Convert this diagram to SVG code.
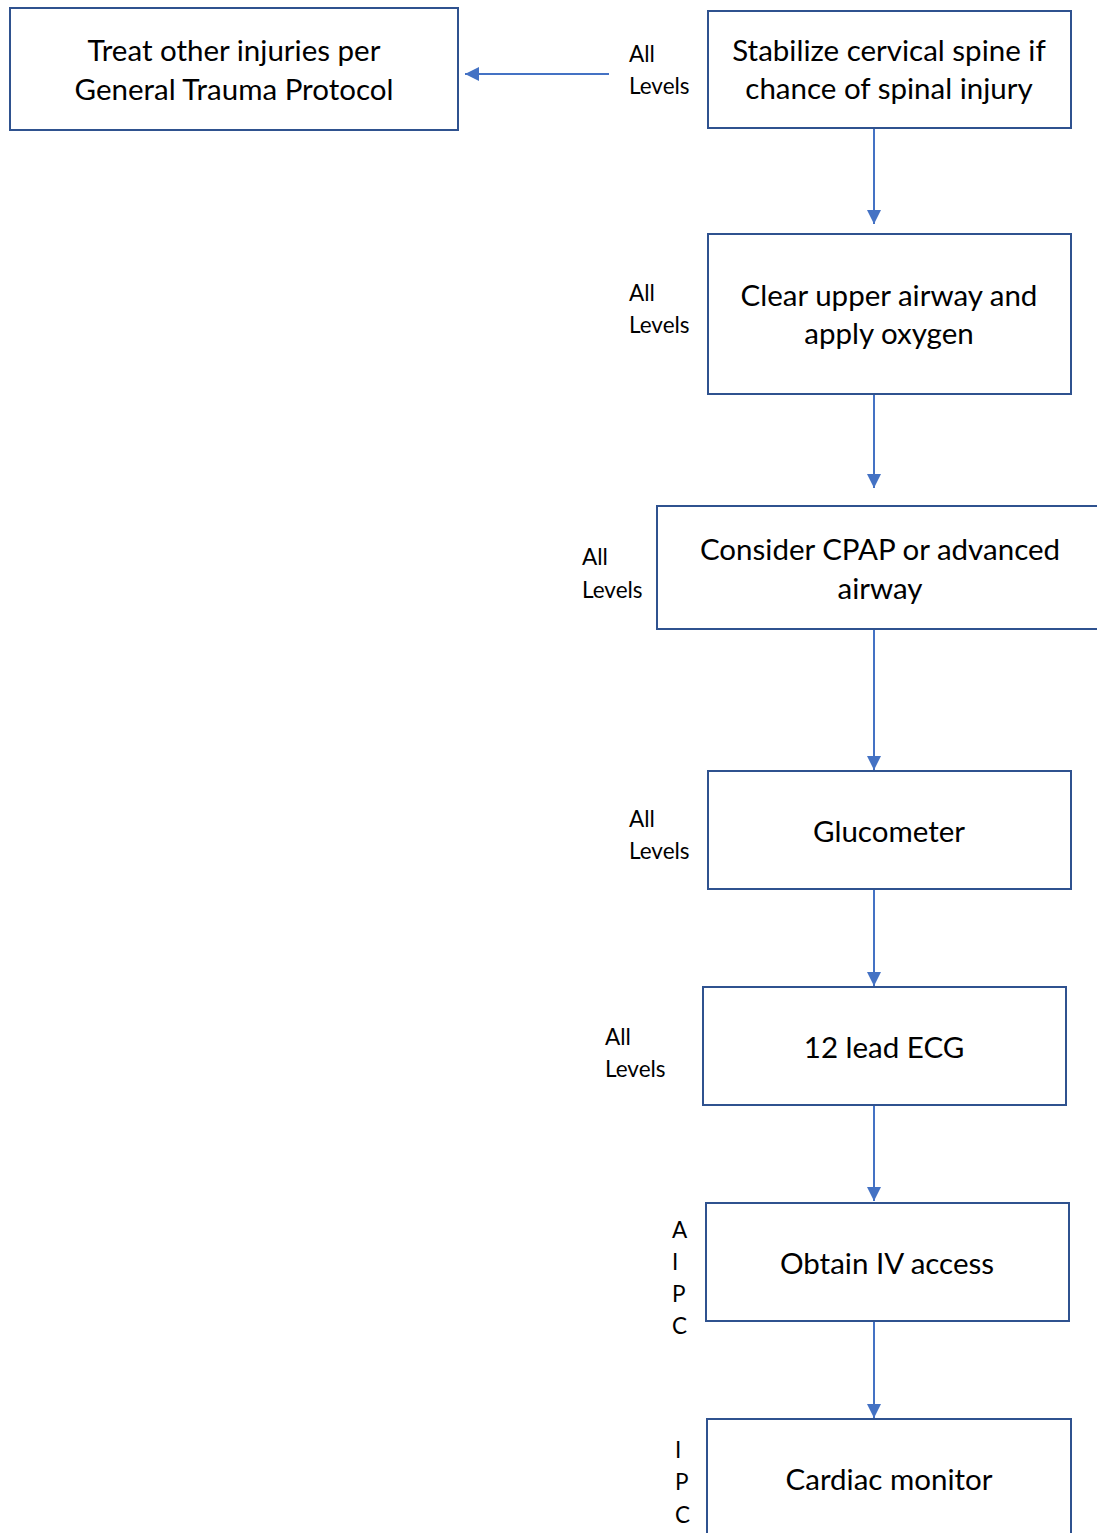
<svg xmlns="http://www.w3.org/2000/svg" width="1097" height="1533" viewBox="0 0 1097 1533">
  <defs>
    <marker id="arrow" viewBox="0 0 10 10" refX="10" refY="5" markerWidth="7" markerHeight="7" orient="auto" markerUnits="strokeWidth">
      <path d="M0,0 L10,5 L0,10 z" fill="#4472C4"/>
    </marker>
    <style>
      .box { fill: #FFFFFF; stroke: #2F528F; stroke-width: 2; }
      .main { font-family: Lato, "Open Sans", "Liberation Sans", sans-serif; font-size: 29.5px; fill: #000000; text-anchor: middle; }
      .lvl { font-family: Lato, "Open Sans", "Liberation Sans", sans-serif; font-size: 22.5px; fill: #000000; }
      .conn { stroke: #4472C4; stroke-width: 2; fill: none; marker-end: url(#arrow); }
    </style>
  </defs>
  <rect x="0" y="0" width="1097" height="1533" fill="#FFFFFF"/>

  <g id="connectors">
    <line class="conn" x1="609" y1="74" x2="465" y2="74"/>
    <line class="conn" x1="874" y1="128" x2="874" y2="224"/>
    <line class="conn" x1="874" y1="394" x2="874" y2="488"/>
    <line class="conn" x1="874" y1="627" x2="874" y2="770"/>
    <line class="conn" x1="874" y1="889" x2="874" y2="986"/>
    <line class="conn" x1="874" y1="1105" x2="874" y2="1201"/>
    <line class="conn" x1="874" y1="1321" x2="874" y2="1418"/>
  </g>

  <g id="treat-other-injuries">
    <rect class="box" x="10" y="8" width="448" height="122"/>
    <text class="main" x="234" y="61">Treat other injuries per</text>
    <text class="main" x="234" y="100">General Trauma Protocol</text>
  </g>

  <g id="stabilize-spine">
    <rect class="box" x="708" y="11" width="363" height="117"/>
    <text class="main" x="889" y="61">Stabilize cervical spine if</text>
    <text class="main" x="889" y="99">chance of spinal injury</text>
    <text class="lvl" x="629" y="62">All</text>
    <text class="lvl" x="629" y="94">Levels</text>
  </g>

  <g id="clear-airway">
    <rect class="box" x="708" y="234" width="363" height="160"/>
    <text class="main" x="889" y="306">Clear upper airway and</text>
    <text class="main" x="889" y="344">apply oxygen</text>
    <text class="lvl" x="629" y="301">All</text>
    <text class="lvl" x="629" y="333">Levels</text>
  </g>

  <g id="consider-cpap">
    <rect class="box" x="657" y="506" width="460" height="123"/>
    <text class="main" x="880" y="560">Consider CPAP or advanced</text>
    <text class="main" x="880" y="599">airway</text>
    <text class="lvl" x="582" y="565">All</text>
    <text class="lvl" x="582" y="598">Levels</text>
  </g>

  <g id="glucometer">
    <rect class="box" x="708" y="771" width="363" height="118"/>
    <text class="main" x="889" y="842">Glucometer</text>
    <text class="lvl" x="629" y="827">All</text>
    <text class="lvl" x="629" y="859">Levels</text>
  </g>

  <g id="ecg-12-lead">
    <rect class="box" x="703" y="987" width="363" height="118"/>
    <text class="main" x="884" y="1058">12 lead ECG</text>
    <text class="lvl" x="605" y="1045">All</text>
    <text class="lvl" x="605" y="1077">Levels</text>
  </g>

  <g id="iv-access">
    <rect class="box" x="706" y="1203" width="363" height="118"/>
    <text class="main" x="887" y="1274">Obtain IV access</text>
    <text class="lvl" x="672" y="1238">A</text>
    <text class="lvl" x="672" y="1270">I</text>
    <text class="lvl" x="672" y="1302">P</text>
    <text class="lvl" x="672" y="1334">C</text>
  </g>

  <g id="cardiac-monitor">
    <rect class="box" x="707" y="1419" width="364" height="130"/>
    <text class="main" x="889" y="1490">Cardiac monitor</text>
    <text class="lvl" x="675" y="1458">I</text>
    <text class="lvl" x="675" y="1490">P</text>
    <text class="lvl" x="675" y="1523">C</text>
  </g>
</svg>
